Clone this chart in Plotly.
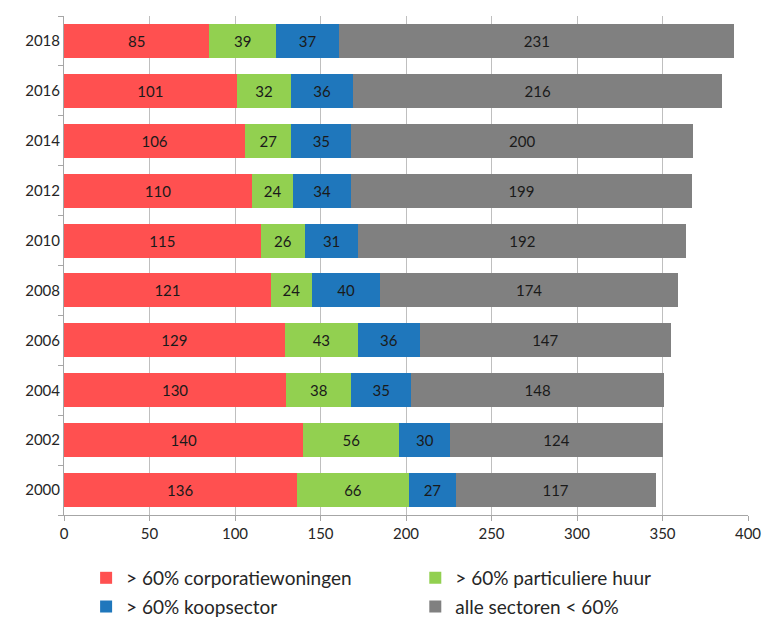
import plotly.graph_objects as go

years = ["2000", "2002", "2004", "2006", "2008", "2010", "2012", "2014", "2016", "2018"]
corporatie = [136, 140, 130, 129, 121, 115, 110, 106, 101, 85]
particulier = [66, 56, 38, 43, 24, 26, 24, 27, 32, 39]
koop = [27, 30, 35, 36, 40, 31, 34, 35, 36, 37]
alle = [117, 124, 148, 147, 174, 192, 199, 200, 216, 231]

# (name, values, colour, legend column)
series = [
    ("> 60% corporatiewoningen", corporatie, "#FF5050", "legend"),
    ("> 60% particuliere huur", particulier, "#92D050", "legend2"),
    ("> 60% koopsector", koop, "#1F77BC", "legend"),
    ("alle sectoren < 60%", alle, "#808080", "legend2"),
]

FONT = "Lato, sans-serif"

fig = go.Figure()
for i, (name, vals, col, leg) in enumerate(series):
    fig.add_trace(go.Bar(
        y=years, x=vals, name=name, orientation="h",
        marker=dict(color=col, line=dict(width=0)),
        text=[str(v) for v in vals], textposition="inside",
        insidetextanchor="middle",
        textfont=dict(color="#1a1a1a", size=15, family=FONT),
        constraintext="none",
        legend=leg, legendgroup=f"g{i}",
    ))

legend_style = dict(
    orientation="v", xref="container", yref="container",
    xanchor="left", yanchor="top", y=0.097,
    font=dict(size=19, family=FONT, color="#262626"),
    tracegroupgap=1, itemwidth=30, bgcolor="rgba(0,0,0,0)",
)

fig.update_layout(
    barmode="stack",
    bargap=0.32,
    width=762, height=619,
    margin=dict(l=64, r=14, t=16, b=104, autoexpand=False),
    paper_bgcolor="white", plot_bgcolor="white",
    font=dict(family=FONT, size=15, color="#262626"),
    uniformtext=dict(minsize=15, mode="show"),
    legend=dict(legend_style, x=0.113),
    legend2=dict(legend_style, x=0.545),
    xaxis=dict(
        range=[0, 400], dtick=50, showgrid=True, gridcolor="#BFBFBF",
        gridwidth=1, zeroline=False, showline=True, linecolor="#A6A6A6",
        ticks="outside", ticklen=5, tickcolor="#A6A6A6",
        tickfont=dict(size=15, family=FONT, color="#262626"),
    ),
    yaxis=dict(
        type="category", categoryorder="array", categoryarray=years,
        showline=True, linecolor="#A6A6A6", ticks="outside", ticklen=5,
        tickcolor="#A6A6A6", tickson="boundaries", showgrid=False,
        tickfont=dict(size=15, family=FONT, color="#262626"),
    ),
)

fig.write_html("out.html")
